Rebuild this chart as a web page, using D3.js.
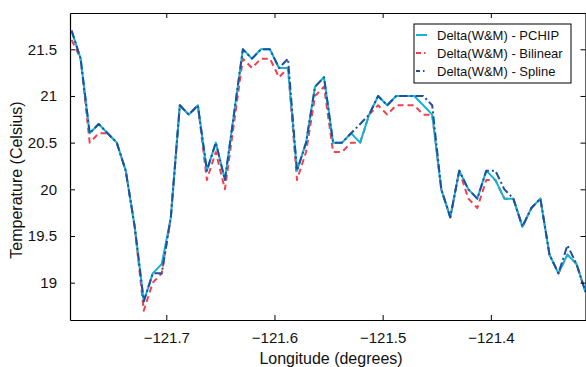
<!DOCTYPE html>
<html>
<head>
<meta charset="utf-8">
<script src="https://cdn.jsdelivr.net/npm/d3@7"></script>
<style>
  body { margin: 0; background: #fff; }
  svg { display: block; font-family: "Liberation Sans", Arial, sans-serif; }
</style>
</head>
<body>
<script>
// longitudes on the 30" grid (degrees)
const lon = [
  -121.7875, -121.7792, -121.7708, -121.7625, -121.7542, -121.7458, -121.7375, -121.7292,
  -121.7208, -121.7125, -121.7042, -121.6958, -121.6875, -121.6792, -121.6708, -121.6625,
  -121.6542, -121.6458, -121.6375, -121.6292, -121.6208, -121.6125, -121.6042, -121.5958,
  -121.5875, -121.5792, -121.5708, -121.5625, -121.5542, -121.5458, -121.5375, -121.5292,
  -121.5208, -121.5125, -121.5042, -121.4958, -121.4875, -121.4792, -121.4708, -121.4625,
  -121.4542, -121.4458, -121.4375, -121.4292, -121.4208, -121.4125, -121.4042, -121.3958,
  -121.3875, -121.3792, -121.3708, -121.3625, -121.3542, -121.3458, -121.3375, -121.3292,
  -121.3208, -121.3125
];

const pchip = [
  21.7, 21.4, 20.6, 20.7, 20.6, 20.5, 20.2, 19.6, 18.8, 19.1, 19.2, 19.7, 20.9, 20.8, 20.9, 20.2,
  20.5, 20.1, 20.8, 21.5, 21.4, 21.5, 21.5, 21.3, 21.3, 20.2, 20.5, 21.1, 21.2, 20.5, 20.5, 20.6,
  20.5, 20.8, 21.0, 20.9, 21.0, 21.0, 21.0, 20.9, 20.8, 20.0, 19.7, 20.2, 20.0, 19.9, 20.2, 20.1,
  19.9, 19.9, 19.6, 19.8, 19.9, 19.3, 19.1, 19.3, 19.2, 18.9
];

const bilinear = [
  21.6, 21.4, 20.5, 20.6, 20.6, 20.5, 20.2, 19.6, 18.7, 19.0, 19.1, 19.7, 20.9, 20.8, 20.9, 20.1,
  20.4, 20.0, 20.7, 21.4, 21.3, 21.4, 21.4, 21.2, 21.3, 20.1, 20.4, 21.0, 21.1, 20.4, 20.4, 20.5,
  20.5, 20.8, 20.9, 20.8, 20.9, 20.9, 20.9, 20.8, 20.8, 20.0, 19.7, 20.2, 19.9, 19.8, 20.1, 20.1,
  19.9, 19.9, 19.6, 19.8, 19.9, 19.3, 19.1, 19.3, 19.2, 18.9
];

const spline = [
  21.7, 21.4, 20.6, 20.7, 20.6, 20.5, 20.2, 19.6, 18.8, 19.1, 19.1, 19.7, 20.9, 20.8, 20.9, 20.2,
  20.5, 20.1, 20.8, 21.5, 21.4, 21.5, 21.5, 21.3, 21.4, 20.2, 20.5, 21.1, 21.2, 20.5, 20.5, 20.6,
  20.7, 20.8, 21.0, 20.9, 21.0, 21.0, 21.0, 21.0, 20.9, 20.0, 19.7, 20.2, 20.0, 19.9, 20.2, 20.2,
  20.0, 19.9, 19.6, 19.8, 19.9, 19.3, 19.1, 19.4, 19.2, 18.9
];

const xTicks = [-121.7, -121.6, -121.5, -121.4];
const yTicks = [19, 19.5, 20, 20.5, 21, 21.5];
const seriesNames = ['Delta(W&M) - PCHIP', 'Delta(W&M) - Bilinear', 'Delta(W&M) - Spline'];

const W = 586, H = 367;
const margin = { top: 13, right: 0.5, bottom: 47, left: 70 };
const width = W - margin.left - margin.right;
const height = H - margin.top - margin.bottom;

const svg = d3.select('body').append('svg')
  .attr('width', W)
  .attr('height', H);

const g = svg.append('g')
  .attr('transform', `translate(${margin.left},${margin.top})`);

const x = d3.scaleLinear().domain([-121.789, -121.3125]).range([0, width]);
const y = d3.scaleLinear().domain([18.6, 21.889]).range([height, 0]);

g.append('clipPath').attr('id', 'clip')
  .append('rect').attr('width', width).attr('height', height);

// series, bottom to top
const styles = [
  { data: bilinear, color: '#f2404f', dash: '6,4', name: seriesNames[1] },
  { data: pchip, color: '#12b4d6', dash: null, name: seriesNames[0] },
  { data: spline, color: '#1f4f9f', dash: '8,3,2,3', name: seriesNames[2] }
];

const line = d3.line()
  .x((d, i) => x(lon[i]))
  .y(d => y(d));

const plot = g.append('g').attr('clip-path', 'url(#clip)');
styles.forEach(s => {
  plot.append('path')
    .datum(s.data)
    .attr('fill', 'none')
    .attr('stroke', s.color)
    .attr('stroke-width', 2)
    .attr('stroke-dasharray', s.dash)
    .attr('stroke-linejoin', 'round')
    .attr('d', line);
});

// axes: ticks pointing inward on all four sides
const fmt = d => d3.format('.1f')(d).replace('-', '\u2212').replace(/\.0$/, '');
const xFmt = d => '\u2212' + Math.abs(d).toFixed(1);

const xAxis = g.append('g')
  .attr('transform', `translate(0,${height})`)
  .call(d3.axisBottom(x).tickValues(xTicks).tickSizeInner(-5).tickSizeOuter(0).tickPadding(12).tickFormat(xFmt));
const xTop = g.append('g')
  .call(d3.axisTop(x).tickValues(xTicks).tickSizeInner(-5).tickSizeOuter(0).tickFormat(''));
const yAxis = g.append('g')
  .call(d3.axisLeft(y).tickValues(yTicks).tickSizeInner(-5).tickSizeOuter(0).tickPadding(13).tickFormat(d => d % 1 === 0 ? String(d) : d.toFixed(1)));
const yRight = g.append('g')
  .attr('transform', `translate(${width},0)`)
  .call(d3.axisRight(y).tickValues(yTicks).tickSizeInner(-5).tickSizeOuter(0).tickFormat(''));

[xAxis, xTop, yAxis, yRight].forEach(a => {
  a.select('.domain').attr('stroke', '#000').attr('stroke-width', 1.2);
  a.selectAll('.tick line').attr('stroke', '#000');
  a.selectAll('.tick text')
    .attr('fill', '#111')
    .style('font-size', '15px')
    .style('font-family', '"Liberation Sans", Arial, sans-serif');
});

// axis titles
svg.append('text')
  .attr('x', margin.left + 262 - margin.left + 70)
  .attr('x', 331)
  .attr('y', 364)
  .attr('text-anchor', 'middle')
  .attr('fill', '#111')
  .style('font-size', '16px')
  .text('Longitude (degrees)');

svg.append('text')
  .attr('transform', 'translate(22,180) rotate(-90)')
  .attr('text-anchor', 'middle')
  .attr('fill', '#111')
  .style('font-size', '16px')
  .text('Temperature (Celsius)');

// legend
const legend = svg.append('g').attr('transform', 'translate(414,24)');
legend.append('rect')
  .attr('width', 157).attr('height', 59)
  .attr('fill', '#fff').attr('stroke', '#000').attr('stroke-width', 1);

const legendOrder = [styles[1], styles[0], styles[2]];
legendOrder.forEach((s, i) => {
  const ly = 11 + i * 18;
  legend.append('line')
    .attr('x1', 2).attr('x2', 13)
    .attr('y1', ly).attr('y2', ly)
    .attr('stroke', s.color)
    .attr('stroke-width', 2)
    .attr('stroke-dasharray', s.dash ? (i === 1 ? '5,3,1.5,3' : '4,3,1.5,3') : null);
  legend.append('text')
    .attr('x', 23).attr('y', ly)
    .attr('dy', '0.35em')
    .attr('fill', '#111')
    .style('font-size', '13px')
    .text(s.name);
});
</script>
</body>
</html>
